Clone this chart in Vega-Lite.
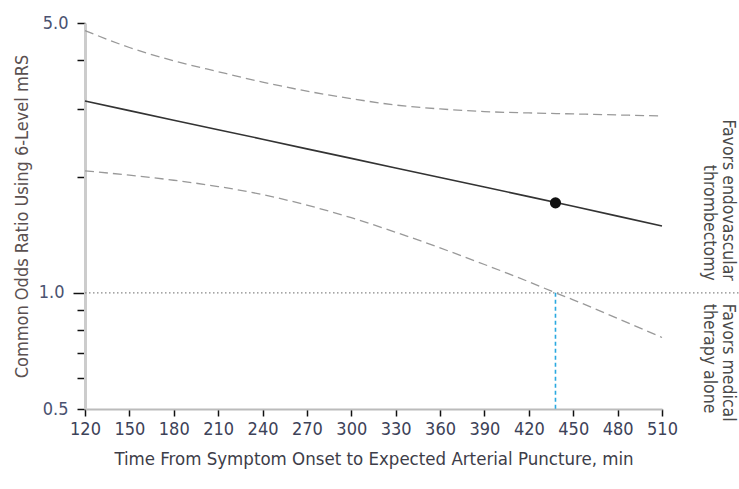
{
  "$schema": "https://vega.github.io/schema/vega-lite/v6.json",
  "width": 577,
  "height": 386,
  "autosize": {"type": "none"},
  "padding": {"left": 85, "top": 23, "right": 77, "bottom": 80},
  "config": {
    "view": {"stroke": null},
    "font": "DejaVu Sans Condensed"
  },
  "datasets": {
    "curves": [
      {"time": 120, "or": 3.14, "series": "Estimate"},
      {"time": 150, "or": 2.965, "series": "Estimate"},
      {"time": 180, "or": 2.8, "series": "Estimate"},
      {"time": 210, "or": 2.645, "series": "Estimate"},
      {"time": 240, "or": 2.5, "series": "Estimate"},
      {"time": 270, "or": 2.36, "series": "Estimate"},
      {"time": 300, "or": 2.23, "series": "Estimate"},
      {"time": 330, "or": 2.105, "series": "Estimate"},
      {"time": 360, "or": 1.99, "series": "Estimate"},
      {"time": 390, "or": 1.88, "series": "Estimate"},
      {"time": 420, "or": 1.775, "series": "Estimate"},
      {"time": 450, "or": 1.675, "series": "Estimate"},
      {"time": 480, "or": 1.58, "series": "Estimate"},
      {"time": 510, "or": 1.49, "series": "Estimate"},
      {"time": 120, "or": 4.78, "series": "Upper"},
      {"time": 150, "or": 4.32, "series": "Upper"},
      {"time": 180, "or": 3.99, "series": "Upper"},
      {"time": 210, "or": 3.74, "series": "Upper"},
      {"time": 240, "or": 3.515, "series": "Upper"},
      {"time": 270, "or": 3.33, "series": "Upper"},
      {"time": 300, "or": 3.184, "series": "Upper"},
      {"time": 330, "or": 3.065, "series": "Upper"},
      {"time": 360, "or": 2.995, "series": "Upper"},
      {"time": 390, "or": 2.948, "series": "Upper"},
      {"time": 420, "or": 2.924, "series": "Upper"},
      {"time": 450, "or": 2.907, "series": "Upper"},
      {"time": 480, "or": 2.889, "series": "Upper"},
      {"time": 510, "or": 2.872, "series": "Upper"},
      {"time": 120, "or": 2.07, "series": "Lower"},
      {"time": 150, "or": 2.017, "series": "Lower"},
      {"time": 180, "or": 1.957, "series": "Lower"},
      {"time": 210, "or": 1.885, "series": "Lower"},
      {"time": 240, "or": 1.797, "series": "Lower"},
      {"time": 270, "or": 1.687, "series": "Lower"},
      {"time": 300, "or": 1.565, "series": "Lower"},
      {"time": 330, "or": 1.435, "series": "Lower"},
      {"time": 360, "or": 1.307, "series": "Lower"},
      {"time": 390, "or": 1.184, "series": "Lower"},
      {"time": 420, "or": 1.068, "series": "Lower"},
      {"time": 438, "or": 1.0, "series": "Lower"},
      {"time": 450, "or": 0.959, "series": "Lower"},
      {"time": 480, "or": 0.858, "series": "Lower"},
      {"time": 510, "or": 0.766, "series": "Lower"}
    ],
    "point": [{"time": 438, "or": 1.71}],
    "threshold": [{"time": 438, "or": 1.0, "or0": 0.5}],
    "notes": [
      {"label": ["Favors endovascular", "thrombectomy"], "side": "up"},
      {"label": ["Favors medical", "therapy alone"], "side": "down"}
    ]
  },
  "layer": [
    {
      "data": {"name": "threshold"},
      "mark": {"type": "rule", "color": "#888888", "strokeWidth": 1.2, "strokeDash": [1.5, 2.5]},
      "encoding": {
        "x": {"datum": 120, "type": "quantitative", "scale": {"domain": [120, 510], "nice": false, "zero": false}},
        "x2": {"datum": 580},
        "y": {"datum": 1, "type": "quantitative", "scale": {"type": "log", "domain": [0.5, 5], "nice": false}}
      }
    },
    {
      "data": {"name": "threshold"},
      "mark": {"type": "rule", "color": "#2aa9e0", "strokeWidth": 1.6, "strokeDash": [4, 3]},
      "encoding": {
        "x": {"field": "time", "type": "quantitative"},
        "y": {"field": "or", "type": "quantitative"},
        "y2": {"field": "or0"}
      }
    },
    {
      "data": {"name": "curves"},
      "transform": [{"filter": "datum.series === 'Upper'"}],
      "mark": {"type": "line", "color": "#999999", "strokeWidth": 1.3, "strokeDash": [9, 5], "interpolate": "monotone"},
      "encoding": {
        "x": {"field": "time", "type": "quantitative"},
        "y": {"field": "or", "type": "quantitative"}
      }
    },
    {
      "data": {"name": "curves"},
      "transform": [{"filter": "datum.series === 'Lower'"}],
      "mark": {"type": "line", "color": "#999999", "strokeWidth": 1.3, "strokeDash": [9, 5], "interpolate": "monotone"},
      "encoding": {
        "x": {"field": "time", "type": "quantitative"},
        "y": {"field": "or", "type": "quantitative"}
      }
    },
    {
      "data": {"name": "curves"},
      "transform": [{"filter": "datum.series === 'Estimate'"}],
      "mark": {"type": "line", "color": "#333333", "strokeWidth": 1.6},
      "encoding": {
        "x": {
          "field": "time",
          "type": "quantitative",
          "axis": {
            "values": [120, 150, 180, 210, 240, 270, 300, 330, 360, 390, 420, 450, 480, 510],
            "title": "Time From Symptom Onset to Expected Arterial Puncture, min",
            "grid": false,
            "domainColor": "#bbbbbb",
            "domainWidth": 2,
            "tickColor": "#111111",
            "tickWidth": 1.5,
            "tickSize": 7,
            "labelPadding": 4,
            "labelFontSize": 18,
            "labelColor": "#3d4258",
            "labelFlush": false,
            "labelOverlap": false,
            "titleFontSize": 18.5,
            "titleFontWeight": "normal",
            "titleColor": "#3d3d48",
            "titlePadding": 11
          }
        },
        "y": {
          "field": "or",
          "type": "quantitative",
          "axis": {
            "values": [0.5, 0.6, 0.7, 0.8, 0.9, 1, 2, 3, 4, 5],
            "labelExpr": "datum.value == 5 || datum.value == 1 || datum.value == 0.5 ? format(datum.value, '.1f') : ''",
            "title": "Common Odds Ratio Using 6-Level mRS",
            "grid": false,
            "domainColor": "#cccccc",
            "domainWidth": 3,
            "tickColor": "#111111",
            "tickWidth": 1.5,
            "tickSize": {"condition": {"test": "datum.value == 1", "value": 12}, "value": 8},
            "labelPadding": 9,
            "labelFontSize": 18,
            "labelColor": "#4a5270",
            "labelFlush": false,
            "labelOverlap": false,
            "titleFontSize": 18,
            "titleFontWeight": "normal",
            "titleColor": "#5a5050",
            "titlePadding": 7
          }
        }
      }
    },
    {
      "data": {"name": "point"},
      "mark": {"type": "circle", "color": "#111111", "opacity": 1, "size": 125},
      "encoding": {
        "x": {"field": "time", "type": "quantitative"},
        "y": {"field": "or", "type": "quantitative"}
      }
    },
    {
      "data": {"name": "notes"},
      "transform": [{"filter": "datum.side === 'up'"}],
      "mark": {"type": "text", "angle": 90, "align": "right", "baseline": "middle", "dx": -12, "fontSize": 17.5, "color": "#4a4a4a", "lineHeight": 19},
      "encoding": {
        "x": {"datum": 554.5, "type": "quantitative"},
        "y": {"datum": 1, "type": "quantitative"},
        "text": {"field": "label"}
      }
    },
    {
      "data": {"name": "notes"},
      "transform": [{"filter": "datum.side === 'down'"}],
      "mark": {"type": "text", "angle": 90, "align": "left", "baseline": "middle", "dx": 11, "fontSize": 17.5, "color": "#4a4a4a", "lineHeight": 19},
      "encoding": {
        "x": {"datum": 554.5, "type": "quantitative"},
        "y": {"datum": 1, "type": "quantitative"},
        "text": {"field": "label"}
      }
    }
  ]
}
